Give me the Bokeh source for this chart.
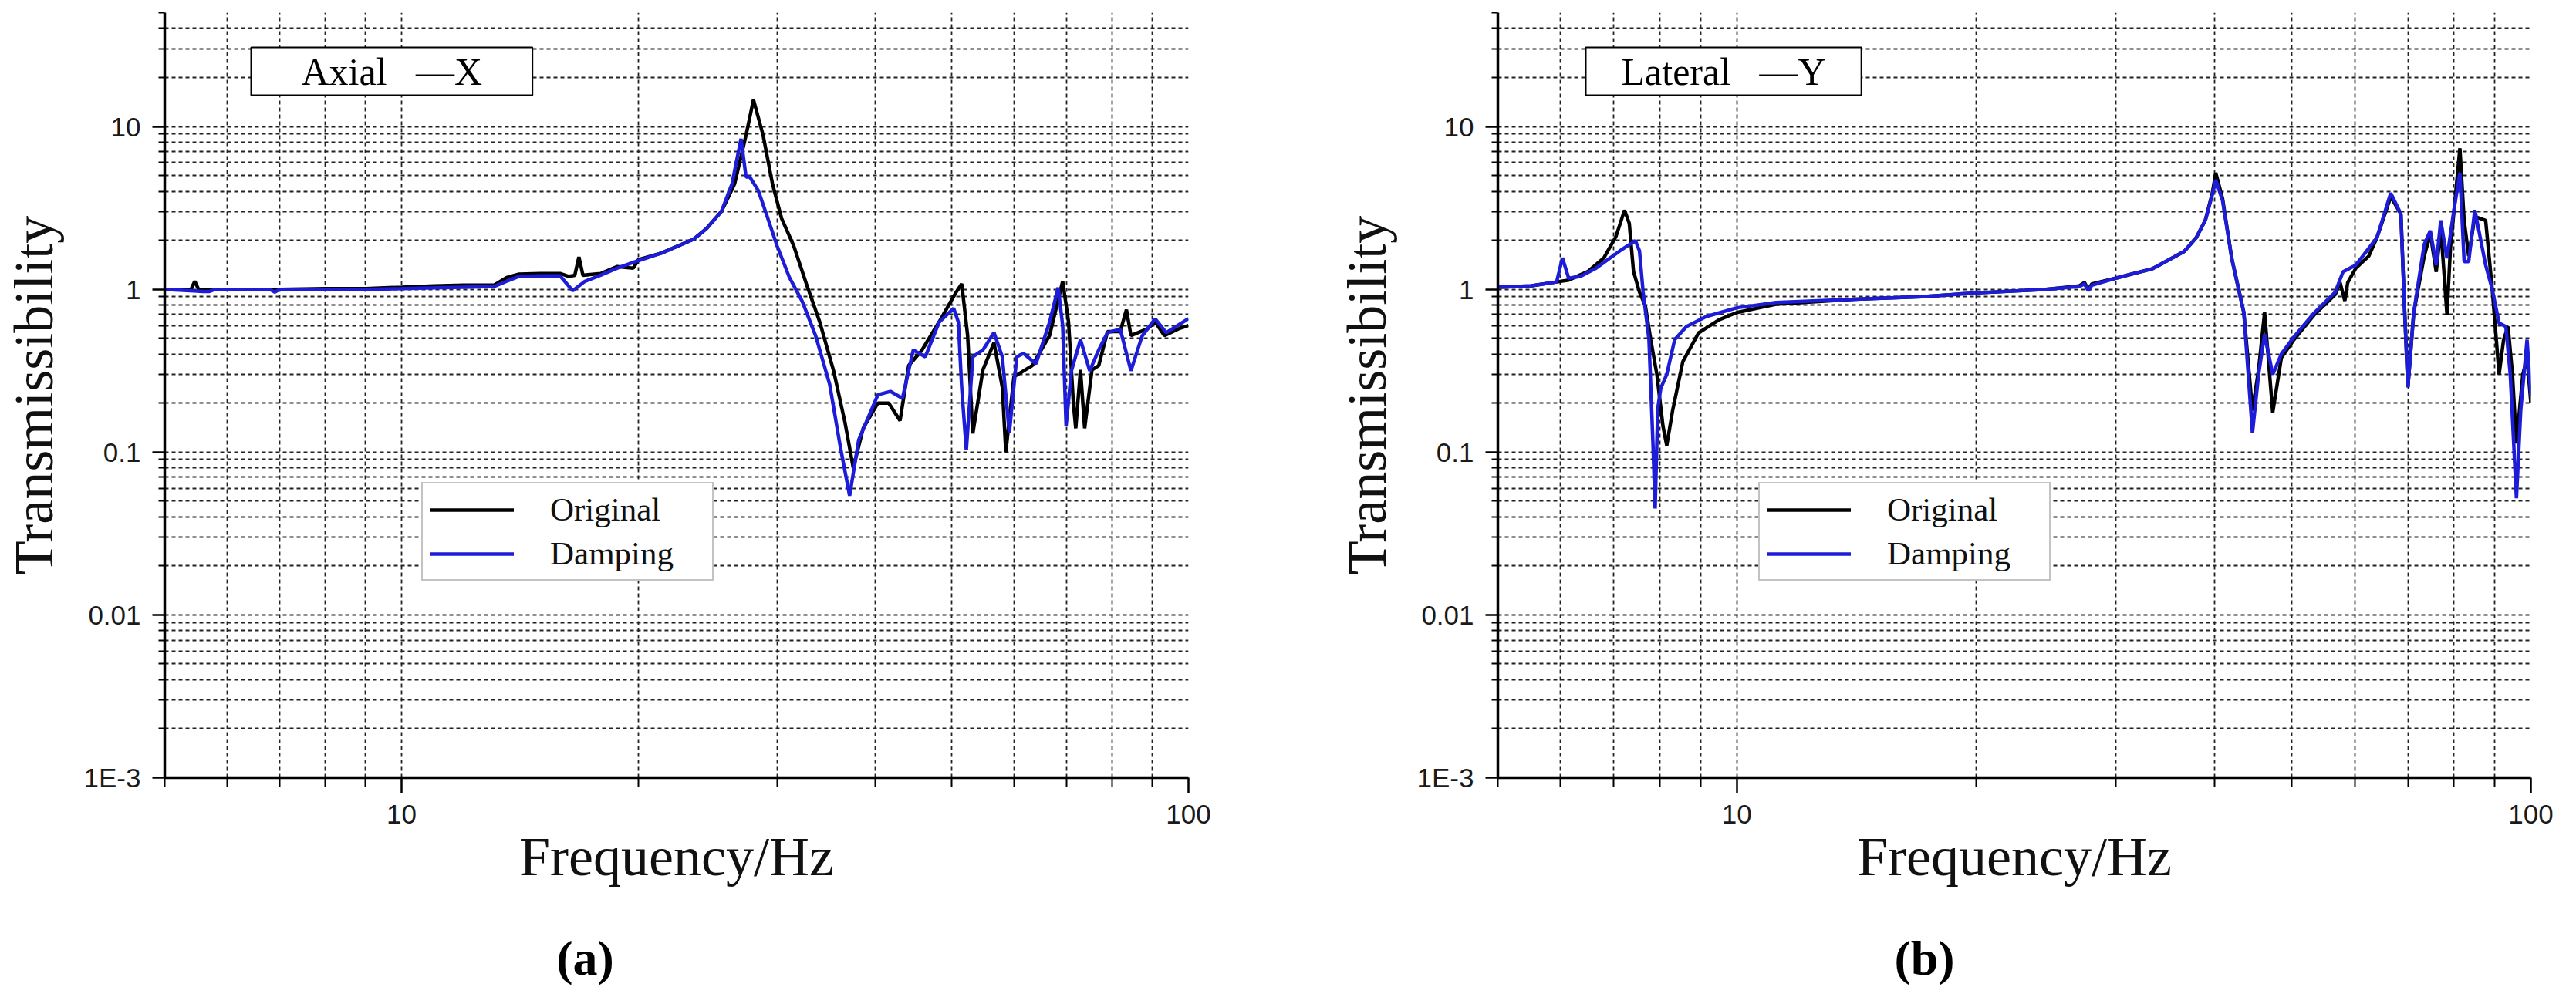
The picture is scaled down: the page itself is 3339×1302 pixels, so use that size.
from bokeh.embed import file_html
from bokeh.layouts import column, row
from bokeh.models import CustomJSTickFormatter, FixedTicker, Label
from bokeh.plotting import figure
from bokeh.resources import INLINE

# (a) Axial -X : frequency (Hz) and transmissibility
freq_axial_original = [5.0, 5.4, 5.46, 5.52, 6.0, 7.0, 8.0, 9.0, 10.0, 11.0,
                       12.0, 13.1, 13.6, 14.1, 15.0, 15.9, 16.3, 16.6, 16.8, 17.0,
                       17.9, 18.8, 19.7, 20.0, 21.4, 23.5, 24.4, 25.5, 26.0, 26.5,
                       27.4, 28.0,
                       28.8, 29.6, 30.4, 31.5, 32.7, 34.0, 35.4, 36.6, 37.5, 38.6,
                       40.3, 41.6, 43.0, 44.1, 45.8, 48.2, 50.6, 51.5, 52.4, 53.2,
                       54.8, 56.6, 58.0, 58.6, 60.0, 63.3, 66.6, 69.2, 70.4, 71.4,
                       71.9, 72.9, 73.8, 75.4, 76.9, 78.9, 81.9, 83.4, 84.5, 88.6,
                       90.7, 93.2, 97.0, 100.0]
trans_axial_original = [1.0, 1.0, 1.12, 1.0, 1.0, 1.0, 1.01, 1.01, 1.03, 1.05,
                        1.06, 1.06, 1.18, 1.24, 1.25, 1.25, 1.2, 1.22, 1.58, 1.22,
                        1.25, 1.38, 1.35, 1.52, 1.67, 2.03, 2.36, 3.01, 3.66, 4.45,
                        8.85, 14.6,
                        8.85, 4.45, 2.73, 1.85, 1.076, 0.628, 0.316, 0.152, 0.08, 0.14,
                        0.2, 0.2, 0.156, 0.34, 0.42, 0.63, 0.95, 1.08, 0.52, 0.13,
                        0.32, 0.47, 0.25, 0.10, 0.29, 0.34, 0.52, 1.12, 0.63, 0.2,
                        0.14, 0.32, 0.14, 0.32, 0.34, 0.55, 0.55, 0.75, 0.52, 0.57,
                        0.63, 0.52, 0.57, 0.60]

freq_axial_damping = [5.0, 5.6, 5.7, 5.8, 6.8, 6.9, 7.0, 8.0, 9.0, 10.0,
                      11.0, 12.0, 13.1, 13.6, 14.1, 15.0, 15.9, 16.5, 17.1, 17.9,
                      18.8, 20.0, 21.4, 23.5, 24.4, 25.5, 26.3, 27.0, 27.4, 27.7,
                      28.4, 29.2,
                      30.0, 31.1, 32.3, 33.6, 35.0, 36.1, 37.1, 38.1, 40.3, 41.8,
                      43.3, 44.7, 46.3, 48.2, 50.3, 51.0, 51.5, 52.2, 53.2, 54.8,
                      56.6, 58.0, 59.2, 60.5, 61.7, 64.0, 66.6, 68.3, 69.2, 69.9,
                      71.0, 72.9, 74.9, 76.9, 78.9, 81.9, 84.5, 87.3, 90.7, 93.7,
                      100.0]
trans_axial_damping = [1.0, 0.97, 0.97, 1.0, 1.0, 0.96, 1.0, 1.0, 1.0, 1.01,
                       1.02, 1.03, 1.04, 1.12, 1.2, 1.21, 1.21, 0.98, 1.12, 1.22,
                       1.35, 1.5, 1.67, 2.03, 2.36, 3.01, 4.45, 8.4, 4.9, 4.9,
                       4.04, 2.73,
                       1.85, 1.187, 0.843, 0.516, 0.26, 0.108, 0.054, 0.119, 0.225, 0.236,
                       0.214, 0.424, 0.385, 0.628, 0.764, 0.628, 0.248, 0.103, 0.385, 0.424,
                       0.542, 0.385, 0.131, 0.385, 0.404, 0.349, 0.628, 1.025, 0.598, 0.145,
                       0.316, 0.491, 0.316, 0.424, 0.542, 0.569, 0.316, 0.516, 0.659, 0.542,
                       0.66]

# (b) Lateral -Y
freq_lateral_original = [5.0, 5.5, 5.93, 6.14, 6.5, 6.8, 7.04, 7.22, 7.32, 7.41,
                         7.54, 7.67, 7.79, 7.93, 8.07, 8.16, 8.3, 8.55, 8.95, 9.5,
                         10.0, 11.2, 14.1, 17.1, 20.0, 24.5, 27.0, 27.4, 27.7, 28.0,
                         30.0, 33.4, 36.6, 37.9, 38.9, 39.7, 40.1, 40.9, 42.0, 43.5,
                         44.6, 45.4,
                         46.2, 47.3, 48.5, 50.3, 53.4, 56.7, 57.5, 58.3, 58.8, 60.2,
                         62.5, 64.0, 66.6, 68.6, 69.3, 70.0, 71.2, 73.4, 74.7, 76.0,
                         77.0, 78.4, 79.2, 80.0, 81.4, 82.4, 83.5, 85.0, 87.7, 89.4,
                         91.2, 92.4, 93.6, 94.8, 95.9, 97.7, 98.9, 100.0]
trans_lateral_original = [1.03, 1.05, 1.11, 1.14, 1.29, 1.56, 2.1, 3.06, 2.54, 1.29,
                          0.96, 0.79, 0.49, 0.30, 0.145, 0.11, 0.18, 0.36, 0.54, 0.65,
                          0.72, 0.81, 0.87, 0.9, 0.95, 1.0, 1.05, 1.1, 1.0, 1.08,
                          1.17, 1.34, 1.71, 2.08, 2.65, 3.9, 5.2, 3.6, 1.55, 0.72,
                          0.18, 0.32,
                          0.72, 0.175, 0.38, 0.49, 0.70, 0.93, 1.1, 0.85, 1.1, 1.35,
                          1.6, 2.08, 3.7, 2.9, 0.79, 0.25, 0.72, 1.6, 2.2, 1.28,
                          2.4, 0.7, 1.8, 3.0, 7.35, 2.65, 1.6, 2.8, 2.65, 1.0,
                          0.30, 0.49, 0.59, 0.30, 0.113, 0.30, 0.38, 0.20]

freq_lateral_damping = [5.0, 5.5, 5.93, 6.03, 6.14, 6.35, 6.65, 7.12, 7.45, 7.54,
                        7.62, 7.75, 7.84, 7.89, 7.95, 8.02, 8.16, 8.35, 8.64, 9.15,
                        10.0, 11.2, 14.1, 17.1, 20.0, 24.5, 27.0, 27.4, 27.7, 28.0,
                        30.0, 33.4, 36.6, 37.9, 38.9, 39.7, 40.1, 40.9, 42.0, 43.5,
                        44.6, 45.4,
                        46.2, 47.3, 48.5, 50.3, 53.4, 56.7, 58.0, 60.2, 64.0, 66.6,
                        68.6, 69.3, 70.0, 71.2, 73.4, 74.7, 76.0, 77.0, 78.4, 80.0,
                        81.4, 82.4, 83.5, 85.0, 87.7, 89.4, 91.2, 93.0, 94.2, 95.9,
                        97.1, 98.9, 100.0]
trans_lateral_damping = [1.03, 1.05, 1.11, 1.56, 1.17, 1.2, 1.35, 1.72, 1.99, 1.72,
                         0.96, 0.49, 0.113, 0.045, 0.185, 0.247, 0.30, 0.49, 0.59, 0.68,
                         0.77, 0.83, 0.87, 0.9, 0.95, 1.0, 1.04, 1.08, 0.98, 1.06,
                         1.17, 1.34, 1.71, 2.08, 2.65, 3.8, 4.7, 3.5, 1.55, 0.72,
                         0.131, 0.30,
                         0.53, 0.30, 0.40, 0.51, 0.72, 0.96, 1.28, 1.41, 2.08, 3.9,
                         2.9, 0.79, 0.25, 0.72, 1.89, 2.29, 1.41, 2.65, 1.55, 3.07,
                         5.2, 1.48, 1.48, 3.07, 1.41, 1.0, 0.62, 0.59, 0.30, 0.052,
                         0.18, 0.49, 0.22]

# axis ticks
x_major = [10, 100]
x_minor = [5, 6, 7, 8, 9, 20, 30, 40, 50, 60, 70, 80, 90]
y_major = [0.001, 0.01, 0.1, 1, 10]
y_minor = [0.002, 0.003, 0.004, 0.005, 0.006, 0.007, 0.008, 0.009,
           0.02, 0.03, 0.04, 0.05, 0.06, 0.07, 0.08, 0.09,
           0.2, 0.3, 0.4, 0.5, 0.6, 0.7, 0.8, 0.9,
           2, 3, 4, 5, 6, 7, 8, 9, 20, 30, 40, 50]

SERIF = "Liberation Serif"
SANS = "Liberation Sans"
BLUE = "#1c1cd9"


def make_panel(width, border_right, freq_o, trans_o, freq_d, trans_d,
               title_text, title_x, title_pad, legend_xy):
    p = figure(width=width, height=1186,
               x_axis_type="log", y_axis_type="log",
               x_range=(5, 100), y_range=(0.001, 50),
               min_border_left=211, min_border_right=border_right,
               min_border_top=16, min_border_bottom=178,
               output_backend="svg", toolbar_location=None)
    p.outline_line_color = None
    p.background_fill_color = "white"
    p.border_fill_color = "white"

    tick_code = """
        if (tick >= 1) { return tick.toFixed(0); }
        if (tick < 0.0015) { return "1E-3"; }
        return String(tick);
    """
    p.xaxis.ticker = FixedTicker(ticks=x_major, minor_ticks=x_minor)
    p.yaxis.ticker = FixedTicker(ticks=y_major, minor_ticks=y_minor)
    p.xaxis.formatter = CustomJSTickFormatter(code=tick_code)
    p.yaxis.formatter = CustomJSTickFormatter(code=tick_code)

    for ax in (p.xaxis, p.yaxis):
        ax.axis_line_width = 3.5
        ax.axis_line_color = "black"
        ax.major_tick_line_width = 2.5
        ax.minor_tick_line_width = 2
        ax.major_tick_line_color = "black"
        ax.minor_tick_line_color = "black"
        ax.major_tick_in = 0
        ax.minor_tick_in = 0
        ax.major_label_text_font = SANS
        ax.major_label_text_font_size = "35px"
        ax.major_label_text_color = "#1a1a1a"
        ax.major_label_standoff = 15
        ax.axis_label_text_font = SERIF
        ax.axis_label_text_font_size = "72px"
        ax.axis_label_text_font_style = "normal"
        ax.axis_label_text_color = "#111111"

    p.xaxis.major_tick_out = 20
    p.xaxis.minor_tick_out = 12
    p.yaxis.major_tick_out = 16
    p.yaxis.minor_tick_out = 8
    p.xaxis.axis_label = "Frequency/Hz"
    p.yaxis.axis_label = "Transmissibility"
    p.xaxis.axis_label_standoff = 0
    p.yaxis.axis_label_standoff = 22

    for grid in (p.xgrid, p.ygrid):
        grid.grid_line_color = "#222222"
        grid.grid_line_dash = "5 4"
        grid.grid_line_width = 1.8
        grid.minor_grid_line_color = "#222222"
        grid.minor_grid_line_dash = "5 4"
        grid.minor_grid_line_width = 1.8

    p.line(freq_o, trans_o, line_color="black", line_width=4.5,
           legend_label="Original")
    p.line(freq_d, trans_d, line_color=BLUE, line_width=4.5,
           legend_label="Damping")

    lg = p.legend[0]
    lg.location = legend_xy
    lg.label_text_font = SERIF
    lg.label_text_font_size = "43px"
    lg.label_text_color = "#111111"
    lg.glyph_width = 109
    lg.glyph_height = 40
    lg.label_height = 40
    lg.label_width = 201
    lg.label_standoff = 47
    lg.padding = 9
    lg.spacing = 8
    lg.margin = 0
    lg.border_line_color = "#888888"
    lg.border_line_width = 2
    lg.background_fill_alpha = 1.0

    p.add_layout(Label(x=title_x, y=916, x_units="screen", y_units="screen",
                       text=title_text, text_font=SERIF, text_font_size="50px",
                       text_color="black", text_align="left",
                       text_baseline="middle", padding=title_pad,
                       border_line_color="black", border_line_width=2,
                       background_fill_color="white"))
    return p


def make_tag(width, tag_text, tag_x):
    # strip under each panel holding the (a)/(b) caption
    t = figure(width=width, height=100, x_range=(0, 1), y_range=(0, 1),
               x_axis_location=None, y_axis_location=None,
               min_border=0, output_backend="svg", toolbar_location=None)
    t.outline_line_color = None
    t.grid.visible = False
    t.add_layout(Label(x=tag_x, y=44, x_units="screen", y_units="screen",
                       text=tag_text, text_font=SERIF, text_font_size="64px",
                       text_font_style="bold", text_color="black",
                       text_align="center", text_baseline="middle"))
    return t


plot_a = make_panel(1728, 188,
                    freq_axial_original, trans_axial_original,
                    freq_axial_damping, trans_axial_damping,
                    "Axial\u00a0\u00a0\u00a0\u2014X", 112, (65, 3), (333, 255))
plot_b = make_panel(1595, 43,
                    freq_lateral_original, trans_lateral_original,
                    freq_lateral_damping, trans_lateral_damping,
                    "Lateral\u00a0\u00a0\u00a0\u2014Y", 114, (46, 3), (338, 255))
tag_a = make_tag(1728, "(a)", 758)
tag_b = make_tag(1595, "(b)", 766)

layout = column(row(plot_a, plot_b), row(tag_a, tag_b))
open("out.html", "w").write(file_html(layout, INLINE))
